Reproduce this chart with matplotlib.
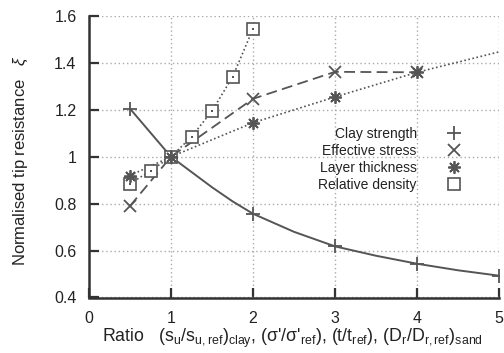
import matplotlib
matplotlib.use("Agg")
import matplotlib.pyplot as plt
from matplotlib.lines import Line2D

plt.rcParams['font.family'] = ['Liberation Sans', 'DejaVu Sans']
plt.rcParams['mathtext.fontset'] = 'custom'
plt.rcParams['mathtext.rm'] = 'Liberation Sans'
plt.rcParams['mathtext.it'] = 'Liberation Sans:italic'

# ---- data ----
clay_x = [0.5, 1, 2, 3, 4, 5]
clay_y = [1.205, 1.0, 0.757, 0.618, 0.544, 0.493]
clay_curve_x = [0.5, 1, 1.25, 1.5, 1.75, 2, 2.5, 3, 3.5, 4, 4.5, 5]
clay_curve_y = [1.205, 1.0, 0.935, 0.87, 0.81, 0.757, 0.68, 0.618, 0.578, 0.544, 0.516, 0.493]

stress_x = [0.5, 1, 2, 3, 4]
stress_y = [0.79, 1.0, 1.247, 1.362, 1.36]

layer_x = [0.5, 1, 2, 3, 4]
layer_y = [0.92, 1.0, 1.145, 1.255, 1.36]
layer_line_x = [0.5, 1, 2, 3, 4, 5]
layer_line_y = [0.92, 1.0, 1.145, 1.255, 1.36, 1.447]

dens_x = [0.5, 0.75, 1, 1.25, 1.5, 1.75, 2]
dens_y = [0.885, 0.94, 1.0, 1.085, 1.195, 1.34, 1.545]

labels = ["Clay strength", "Effective stress", "Layer thickness", "Relative density"]
xticks = [0, 1, 2, 3, 4, 5]
yticks = [0.4, 0.6, 0.8, 1.0, 1.2, 1.4, 1.6]
yticklabels = ["0.4", "0.6", "0.8", "1", "1.2", "1.4", "1.6"]

# ---- figure ----
fig = plt.figure(figsize=(5.04, 3.53), dpi=100)
ax = fig.add_axes([89/504, 1-297.5/353, 410/504, (297.5-16)/353])

lc = '#555555'
mc = '#555555'
ast = (8, 2, 0)

ax.plot(clay_curve_x, clay_curve_y, '-', color=lc, lw=1.4, zorder=3)
ax.plot(clay_x, clay_y, linestyle='none', marker='+', ms=9.5, mew=1.3, color=mc, zorder=4)

ax.plot(stress_x, stress_y, linestyle=(0, (6, 3)), color=lc, lw=1.3,
        marker='x', ms=8.5, mew=1.3, mec=mc, zorder=3)

ax.plot(layer_line_x, layer_line_y, linestyle=(0, (1, 1.5)), color=lc, lw=1.2, zorder=3)
ax.plot(layer_x, layer_y, linestyle='none', marker=ast, ms=9, mew=1.3, color=mc, zorder=4)

ax.plot(dens_x, dens_y, linestyle=(0, (1, 1.5)), color=lc, lw=1.2,
        marker='s', ms=8.5, mew=1.2, mfc='white', mec=mc, zorder=3)
ax.plot(dens_x, dens_y, linestyle='none', marker='s', ms=1.5, mew=0, color=mc, zorder=4)

ax.set_xlim(0, 5)
ax.set_ylim(0.4, 1.6)
ax.set_xticks(xticks)
ax.set_xticklabels([str(t) for t in xticks])
ax.set_yticks(yticks)
ax.set_yticklabels(yticklabels)
ax.tick_params(direction='in', length=7, width=1.6, colors='#333333',
               labelsize=11.5, pad=10, labelcolor='#222222')
ax.tick_params(axis='y', pad=9)

ax.grid(True, color='#aaaaaa', linestyle=(0, (1, 2)), lw=1.0)
for s in ['top', 'right']:
    ax.spines[s].set_visible(False)
for s in ['left', 'bottom']:
    ax.spines[s].set_linewidth(1.8)
    ax.spines[s].set_color('#333333')

ax.set_ylabel("Normalised tip resistance   $\\xi$", fontsize=12, color='#222222')
ax.yaxis.set_label_coords(-0.145, 0.485)
ax.set_xlabel("Ratio   (s$_\\mathrm{u}$/s$_\\mathrm{u,ref}$)$_\\mathrm{clay}$, "
              "($\\mathrm{\\sigma}$'/$\\mathrm{\\sigma}$'$_\\mathrm{ref}$), "
              "(t/t$_\\mathrm{ref}$), (D$_\\mathrm{r}$/D$_\\mathrm{r,ref}$)$_\\mathrm{sand}$",
              fontsize=12.8, color='#222222')
ax.xaxis.set_label_coords(0.497, -0.105)

handles = [
    Line2D([], [], linestyle='none', marker='+', ms=9.5, mew=1.3, color=mc),
    Line2D([], [], linestyle='none', marker='x', ms=8.5, mew=1.3, color=mc),
    Line2D([], [], linestyle='none', marker=ast, ms=9, mew=1.3, color=mc),
    Line2D([], [], linestyle='none', marker='s', ms=8.5, mew=1.2, mfc='white', mec=mc),
]
leg = ax.legend(handles, labels, loc='upper right', bbox_to_anchor=(0.925, 0.605),
                frameon=False, markerfirst=False, fontsize=10, labelspacing=0.2,
                handlelength=2.0, handletextpad=1.7, borderpad=0, borderaxespad=0)
for t in leg.get_texts():
    t.set_color('#222222')

fig.savefig("out.png", dpi=100)
